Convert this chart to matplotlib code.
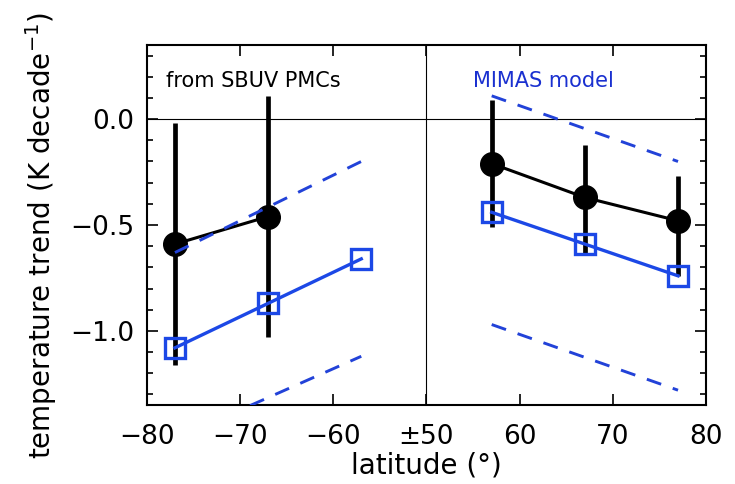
import numpy as np
import matplotlib
matplotlib.use("Agg")
import matplotlib.pyplot as plt
from matplotlib.ticker import MultipleLocator

plt.rcParams['font.family'] = ['DejaVu Sans']
plt.rcParams['mathtext.default'] = 'regular'

# latitudes of the SBUV / MIMAS points
lat_south = [-77, -67]
lat_south_model = [-77, -67, -57]
lat_north = [57, 67, 77]

# SBUV PMC derived trends (K/decade) with error bar limits
sbuv_south = [-0.59, -0.46]
sbuv_south_hi = [-0.02, 0.11]
sbuv_south_lo = [-1.16, -1.03]
sbuv_north = [-0.21, -0.37, -0.48]
sbuv_north_hi = [0.09, -0.12, -0.27]
sbuv_north_lo = [-0.51, -0.63, -0.74]

# MIMAS model trends and uncertainty envelope (dashed)
mimas_south = [-1.08, -0.87, -0.66]
mimas_north = [-0.44, -0.59, -0.74]
env_lat_south = [-77, -57]
env_south_hi = [-0.63, -0.20]
env_south_lo = [-1.51, -1.12]
env_lat_north = [57, 77]
env_north_hi = [0.11, -0.20]
env_north_lo = [-0.97, -1.28]

xtick_lat = [-80, -70, -60, 50, 60, 70, 80]
xtick_labels = ['\u221280', '\u221270', '\u221260', '\u00b150', '60', '70', '80']


def xpos(lat):
    # fold the two hemispheres onto one axis, -50 and +50 meet in the middle
    lat = np.asarray(lat, dtype=float)
    return np.where(lat < 0, lat + 80, lat - 20)


blue = '#1c48e6'
dash_blue = '#2242d8'

fig = plt.figure(figsize=(7.35, 4.84), dpi=100)
ax = fig.add_axes([0.2, 0.1632, 0.7605, 0.7438])

ax.axhline(0, color='black', lw=0.8, zorder=1)
ax.axvline(30, color='black', lw=0.8, zorder=1)

# SBUV: black error bars + filled circles
for lats, val, hi, lo in [(lat_south, sbuv_south, sbuv_south_hi, sbuv_south_lo),
                          (lat_north, sbuv_north, sbuv_north_hi, sbuv_north_lo)]:
    x = xpos(lats)
    ax.vlines(x, lo, hi, color='black', lw=3.4, zorder=2)
    ax.plot(x, val, '-', color='black', lw=2.2, marker='o', ms=17, zorder=3)

# MIMAS model: blue open squares
for lats, val in [(lat_south_model, mimas_south), (lat_north, mimas_north)]:
    ax.plot(xpos(lats), val, '-', color=blue, lw=2.4, marker='s', ms=14,
            mfc='none', mec=blue, mew=2.4, zorder=4)

for lats, hi, lo in [(env_lat_south, env_south_hi, env_south_lo),
                     (env_lat_north, env_north_hi, env_north_lo)]:
    for ys in (hi, lo):
        ax.plot(xpos(lats), ys, color=dash_blue, lw=2.1,
                dashes=(5.2, 4.2), zorder=5)

ax.set_xlim(0, 60)
ax.set_ylim(-1.35, 0.35)
ax.set_xticks(xpos(xtick_lat))
ax.set_xticklabels(xtick_labels)
ax.set_yticks([-1.0, -0.5, 0.0])
ax.set_yticklabels(['\u22121.0', '\u22120.5', '0.0'])
ax.yaxis.set_minor_locator(MultipleLocator(0.1))
ax.tick_params(which='both', direction='in', top=True, right=True,
               width=1.2, labelsize=19)
ax.tick_params(axis='x', pad=14)
ax.tick_params(axis='y', pad=9)
ax.tick_params(which='major', length=8)
ax.tick_params(which='minor', length=4)
for s in ax.spines.values():
    s.set_linewidth(1.5)

ax.set_xlabel('latitude (\u00b0)', fontsize=20, labelpad=1)
ax.set_ylabel('temperature trend (K decade$^{-1}$)', fontsize=20, labelpad=8)
ax.yaxis.label.set_y(0.47)

ax.text(2.0, 0.18, 'from SBUV PMCs', fontsize=15, color='black',
        va='center', ha='left')
ax.text(35.0, 0.18, 'MIMAS model', fontsize=15, color='#1a30d0',
        va='center', ha='left')

fig.savefig('out.png', dpi=100)
